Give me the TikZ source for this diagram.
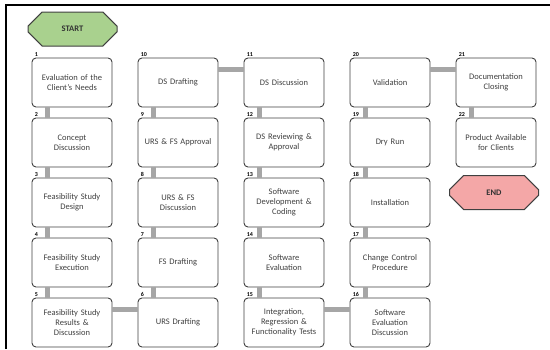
\documentclass[tikz,border=0pt]{standalone}
\usepackage{fontspec}
\setmainfont{Carlito}
\usetikzlibrary{shapes.misc}
\definecolor{startgreen}{HTML}{A9D18E}
\definecolor{endpink}{HTML}{F4A7A7}
\definecolor{boxline}{HTML}{404040}
\definecolor{bargray}{HTML}{A6A6A6}

\begin{document}
\begin{tikzpicture}[
    x=1pt, y=-1pt,
    stage/.style={draw=boxline, line width=0.9pt, rounded corners=4pt, fill=white,
        minimum width=80pt, minimum height=49pt, text width=78pt, align=center,
        inner sep=1pt, font=\fontsize{8.5}{10}\selectfont, text=boxline},
    num/.style={font=\bfseries\fontsize{6}{6}\selectfont, anchor=south west, inner sep=1pt, xshift=2pt},
    terminal/.style={chamfered rectangle, chamfered rectangle xsep=7pt, chamfered rectangle ysep=8pt,
        draw=boxline, line width=1pt, minimum width=89pt, minimum height=34pt,
        font=\bfseries\fontsize{8.5}{8.5}\selectfont, text=boxline!80!black},
    bar/.style={draw=bargray, line width=5pt},
]
\useasboundingbox (0,0) rectangle (550,349);
% Frame
\draw[line width=2pt] (6,349) -- (6,5) -- (550,5);

% Start / end
\node[terminal, fill=startgreen] (start) at (72.5,29) {START};
\node[terminal, fill=endpink] (end) at (494,192.5) {END};

% Stages
\foreach \i/\c/\r/\txt in {
    1/0/0/{Evaluation of the\\Client’s Needs},
    2/0/1/{Concept\\Discussion},
    3/0/2/{Feasibility Study\\Design},
    4/0/3/{Feasibility Study\\Execution},
    5/0/4/{Feasibility Study\\Results \&\\Discussion},
    10/1/0/{DS Drafting},
    9/1/1/{URS \& FS Approval},
    8/1/2/{URS \& FS\\Discussion},
    7/1/3/{FS Drafting},
    6/1/4/{URS Drafting},
    11/2/0/{DS Discussion},
    12/2/1/{DS Reviewing \&\\Approval},
    13/2/2/{Software\\Development \&\\Coding},
    14/2/3/{Software\\Evaluation},
    15/2/4/{Integration,\\Regression \&\\Functionality Tests},
    20/3/0/{Validation},
    19/3/1/{Dry Run},
    18/3/2/{Installation},
    17/3/3/{Change Control\\Procedure},
    16/3/4/{Software\\Evaluation\\Discussion},
    21/4/0/{Documentation\\Closing},
    22/4/1/{Product Available\\for Clients}
} {
    \node[stage, label={[num]north west:\i}] (s\i) at (72+106*\c, 82.5+60*\r) {\txt};
}

% Connectors
\foreach \a/\b in {1/2,2/3,3/4,4/5,10/9,9/8,8/7,7/6,11/12,12/13,13/14,14/15,20/19,19/18,18/17,17/16,21/22}
    \draw[bar] ([xshift=16pt]s\a.south west) -- ([xshift=16pt]s\b.north west);
\foreach \a/\b in {5/6,10/11,15/16,20/21}
    \draw[bar] ([yshift=-12pt]s\a.north east) -- ([yshift=-12pt]s\b.north west);
\end{tikzpicture}
\end{document}
